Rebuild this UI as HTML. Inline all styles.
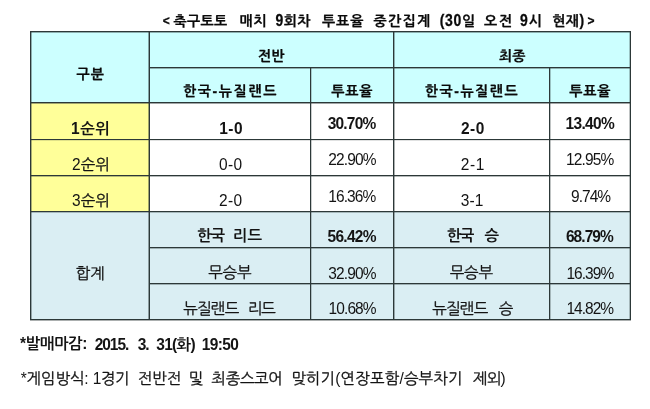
<!DOCTYPE html>
<html lang="ko"><head><meta charset="utf-8"><title>축구토토 매치 9회차 투표율 중간집계</title>
<style>
html,body{margin:0;padding:0;background:#fff;}
body{width:650px;height:409px;position:relative;overflow:hidden;color:#141414;}
.r,.l,.l2,.t{position:absolute;}
.l,.l2{background:#2c3838;}
.t{height:20px;line-height:20px;white-space:nowrap;}
.h{font-family:"Liberation Sans","NanumGothic",sans-serif;font-size:14px;font-weight:bold;color:#0a0a0a;-webkit-text-stroke:0.25px #0a0a0a;}
.b{font-family:"Liberation Sans","NanumGothic",sans-serif;font-size:15.5px;font-weight:400;-webkit-text-stroke:0.3px #141414;}
.bd{font-weight:bold;-webkit-text-stroke:0;}
.d2{display:inline-block;transform:scaleY(1.16);transform-origin:50% 78%;}
.d{display:inline-block;font-size:15.5px;-webkit-text-stroke:0;transform:scaleY(1.1);transform-origin:50% 75%;}
</style></head><body>
<div class="r" style="left:30px;top:31px;width:600px;height:71px;background:#ccffff"></div>
<div class="r" style="left:30px;top:102px;width:119px;height:109px;background:#ffff99"></div>
<div class="r" style="left:30px;top:211px;width:600px;height:108px;background:#daeef3"></div>
<div class="l2" style="left:30px;top:32px;width:601px;height:1px;opacity:0.4"></div>
<div class="l" style="left:30px;top:31px;width:601px;height:1px"></div>
<div class="l2" style="left:149px;top:68px;width:482px;height:1px;opacity:0.4"></div>
<div class="l" style="left:149px;top:67px;width:482px;height:1px"></div>
<div class="l2" style="left:30px;top:103px;width:601px;height:1px;opacity:0.45"></div>
<div class="l" style="left:30px;top:102px;width:601px;height:1px"></div>
<div class="l2" style="left:30px;top:140px;width:601px;height:1px;opacity:0.15"></div>
<div class="l" style="left:30px;top:139px;width:601px;height:1px"></div>
<div class="l2" style="left:30px;top:176px;width:601px;height:1px;opacity:0.35"></div>
<div class="l" style="left:30px;top:175px;width:601px;height:1px"></div>
<div class="l2" style="left:30px;top:212px;width:601px;height:1px;opacity:0.3"></div>
<div class="l" style="left:30px;top:211px;width:601px;height:1px"></div>
<div class="l2" style="left:149px;top:248px;width:482px;height:1px;opacity:0.35"></div>
<div class="l" style="left:149px;top:247px;width:482px;height:1px"></div>
<div class="l2" style="left:149px;top:284px;width:482px;height:1px;opacity:0.35"></div>
<div class="l" style="left:149px;top:283px;width:482px;height:1px"></div>
<div class="l2" style="left:30px;top:320px;width:601px;height:1px;opacity:0.4"></div>
<div class="l" style="left:30px;top:319px;width:601px;height:1px"></div>
<div class="l2" style="left:31px;top:31px;width:1px;height:289px;opacity:0.4"></div>
<div class="l" style="left:30px;top:31px;width:1px;height:289px"></div>
<div class="l2" style="left:148px;top:31px;width:1px;height:289px;opacity:0.45"></div>
<div class="l" style="left:149px;top:31px;width:1px;height:289px"></div>
<div class="l2" style="left:629px;top:31px;width:1px;height:289px;opacity:0.3"></div>
<div class="l" style="left:630px;top:31px;width:1px;height:289px"></div>
<div class="l2" style="left:394px;top:31px;width:1px;height:289px;opacity:0.4"></div>
<div class="l" style="left:393px;top:31px;width:1px;height:289px"></div>
<div class="l2" style="left:311px;top:67px;width:1px;height:253px;opacity:0.25"></div>
<div class="l" style="left:310px;top:67px;width:1px;height:253px"></div>
<div class="l2" style="left:550px;top:67px;width:1px;height:253px;opacity:0.3"></div>
<div class="l" style="left:549px;top:67px;width:1px;height:253px"></div>
<div class="t h" id="t0" style="left:162.80px;top:10.70px;letter-spacing:0.80px;font-size:12px;">&lt;</div>
<div class="t h" id="t1" style="left:173.53px;top:10.98px;letter-spacing:0.37px;">축구토토</div>
<div class="t h" id="t2" style="left:239.60px;top:10.98px;letter-spacing:0.82px;">매치</div>
<div class="t h" id="t3" style="left:275.44px;top:10.98px;letter-spacing:0.39px;"><span class="d2">9</span>회차</div>
<div class="t h" id="t4" style="left:322.00px;top:10.98px;letter-spacing:0.96px;">투표율</div>
<div class="t h" id="t5" style="left:373.38px;top:10.98px;letter-spacing:1.36px;">중간집계</div>
<div class="t h" id="t6" style="left:439.66px;top:10.98px;letter-spacing:0.68px;"><span class="d2">(30</span>일</div>
<div class="t h" id="t7" style="left:483.95px;top:10.98px;letter-spacing:2.01px;">오전</div>
<div class="t h" id="t8" style="left:520.04px;top:10.98px;letter-spacing:0.96px;"><span class="d2">9</span>시</div>
<div class="t h" id="t9" style="left:552.17px;top:10.98px;letter-spacing:0.48px;">현재<span class="d2">)</span></div>
<div class="t h" id="t10" style="left:587.50px;top:10.88px;letter-spacing:0.00px;font-size:12px;">&gt;</div>
<div class="t h" id="h0" style="left:76.56px;top:64.31px;letter-spacing:0.99px;">구분</div>
<div class="t h" id="h1" style="left:258.00px;top:46.45px;letter-spacing:0.12px;">전반</div>
<div class="t h" id="h2" style="left:498.95px;top:46.45px;letter-spacing:0.12px;">최종</div>
<div class="t h" id="h3" style="left:182.92px;top:81.33px;letter-spacing:1.64px;">한국-뉴질랜드</div>
<div class="t h" id="h4" style="left:331.30px;top:81.33px;letter-spacing:0.82px;">투표율</div>
<div class="t h" id="h5" style="left:424.81px;top:81.33px;letter-spacing:1.54px;">한국-뉴질랜드</div>
<div class="t h" id="h6" style="left:569.30px;top:81.33px;letter-spacing:0.82px;">투표율</div>
<div class="t b bd" id="r1a" style="left:71.10px;top:118.58px;letter-spacing:0.45px;"><span class="d">1</span>순위</div>
<div class="t b bd" id="r1b" style="left:219.26px;top:119.02px;letter-spacing:0.43px;"><span class="d">1-0</span></div>
<div class="t b bd" id="r1c" style="left:327.64px;top:114.48px;letter-spacing:-0.78px;"><span class="d">30.70%</span></div>
<div class="t b bd" id="r1d" style="left:460.93px;top:118.96px;letter-spacing:0.52px;"><span class="d">2-0</span></div>
<div class="t b bd" id="r1e" style="left:565.40px;top:114.48px;letter-spacing:-0.62px;"><span class="d">13.40%</span></div>
<div class="t b" id="r2a" style="left:72.00px;top:154.98px;letter-spacing:0.10px;"><span class="d">2</span>순위</div>
<div class="t b" id="r2b" style="left:218.90px;top:155.28px;letter-spacing:0.38px;"><span class="d">0-0</span></div>
<div class="t b" id="r2c" style="left:328.36px;top:150.14px;letter-spacing:-0.87px;"><span class="d">22.90%</span></div>
<div class="t b" id="r2d" style="left:460.67px;top:154.90px;letter-spacing:0.71px;"><span class="d">2-1</span></div>
<div class="t b" id="r2e" style="left:566.02px;top:150.14px;letter-spacing:-0.85px;"><span class="d">12.95%</span></div>
<div class="t b" id="r3a" style="left:72.00px;top:191.16px;letter-spacing:0.10px;"><span class="d">3</span>순위</div>
<div class="t b" id="r3b" style="left:218.90px;top:190.52px;letter-spacing:0.38px;"><span class="d">2-0</span></div>
<div class="t b" id="r3c" style="left:328.16px;top:186.65px;letter-spacing:-0.88px;"><span class="d">16.36%</span></div>
<div class="t b" id="r3d" style="left:460.76px;top:190.88px;letter-spacing:0.17px;"><span class="d">3-1</span></div>
<div class="t b" id="r3e" style="left:571.10px;top:186.65px;letter-spacing:-0.99px;"><span class="d">9.74%</span></div>
<div class="t b" id="s0" style="left:75.82px;top:263.51px;letter-spacing:-0.16px;">합계</div>
<div class="t b bd" id="s1a" style="left:197.00px;top:225.64px;letter-spacing:-1.00px;">한국</div>
<div class="t b bd" id="s1a2" style="left:232.62px;top:225.64px;letter-spacing:0.26px;">리드</div>
<div class="t b bd" id="s1b" style="left:327.54px;top:226.62px;letter-spacing:-0.73px;"><span class="d">56.42%</span></div>
<div class="t b bd" id="s1c" style="left:446.86px;top:226.28px;letter-spacing:-1.68px;">한국</div>
<div class="t b bd" id="s1c2" style="left:484.50px;top:226.28px;letter-spacing:0.00px;">승</div>
<div class="t b bd" id="s1d" style="left:565.88px;top:226.62px;letter-spacing:-0.92px;"><span class="d">68.79%</span></div>
<div class="t b" id="s2a" style="left:208.25px;top:262.83px;letter-spacing:-0.25px;">무승부</div>
<div class="t b" id="s2b" style="left:328.20px;top:263.96px;letter-spacing:-0.85px;"><span class="d">32.90%</span></div>
<div class="t b" id="s2c" style="left:449.75px;top:262.83px;letter-spacing:-0.25px;">무승부</div>
<div class="t b" id="s2d" style="left:566.43px;top:263.96px;letter-spacing:-0.96px;"><span class="d">16.39%</span></div>
<div class="t b" id="s3a" style="left:183.27px;top:299.26px;letter-spacing:-0.78px;">뉴질랜드</div>
<div class="t b" id="s3a2" style="left:247.76px;top:299.26px;letter-spacing:-1.07px;">리드</div>
<div class="t b" id="s3b" style="left:328.48px;top:299.28px;letter-spacing:-0.88px;"><span class="d">10.68%</span></div>
<div class="t b" id="s3c" style="left:432.27px;top:298.50px;letter-spacing:-0.78px;">뉴질랜드</div>
<div class="t b" id="s3c2" style="left:498.79px;top:298.50px;letter-spacing:0.00px;">승</div>
<div class="t b" id="s3d" style="left:566.38px;top:299.28px;letter-spacing:-0.97px;"><span class="d">14.82%</span></div>
<div class="t b bd" id="n1" style="left:20.00px;top:333.99px;letter-spacing:-0.41px;"><span class="d">*</span>발매마감<span class="d">:</span></div>
<div class="t b bd" id="n1b" style="left:94.78px;top:335.10px;letter-spacing:-1.07px;"><span class="d">2015.</span></div>
<div class="t b bd" id="n1c" style="left:137.78px;top:335.10px;letter-spacing:-1.22px;"><span class="d">3.</span></div>
<div class="t b bd" id="n1d" style="left:156.28px;top:335.10px;letter-spacing:-0.71px;"><span class="d">31(</span>화<span class="d">)</span></div>
<div class="t b bd" id="n1e" style="left:201.84px;top:335.10px;letter-spacing:-0.66px;"><span class="d">19:50</span></div>
<div class="t b" id="n2" style="left:20.66px;top:369.28px;letter-spacing:-0.14px;"><span class="d">*</span>게임방식<span class="d">:</span></div>
<div class="t b" id="n2b" style="left:92.73px;top:369.28px;letter-spacing:-0.46px;"><span class="d">1</span>경기</div>
<div class="t b" id="n2c" style="left:137.40px;top:369.28px;letter-spacing:-0.07px;">전반전</div>
<div class="t b" id="n2d" style="left:188.58px;top:369.28px;letter-spacing:0.00px;">및</div>
<div class="t b" id="n2e" style="left:211.58px;top:369.28px;letter-spacing:-0.39px;">최종스코어</div>
<div class="t b" id="n2f" style="left:291.17px;top:369.28px;letter-spacing:0.14px;">맞히기<span class="d">(</span>연장포함<span class="d">/</span>승부차기</div>
<div class="t b" id="n2g" style="left:472.97px;top:369.28px;letter-spacing:-0.76px;">제외<span class="d">)</span></div>
</body></html>
